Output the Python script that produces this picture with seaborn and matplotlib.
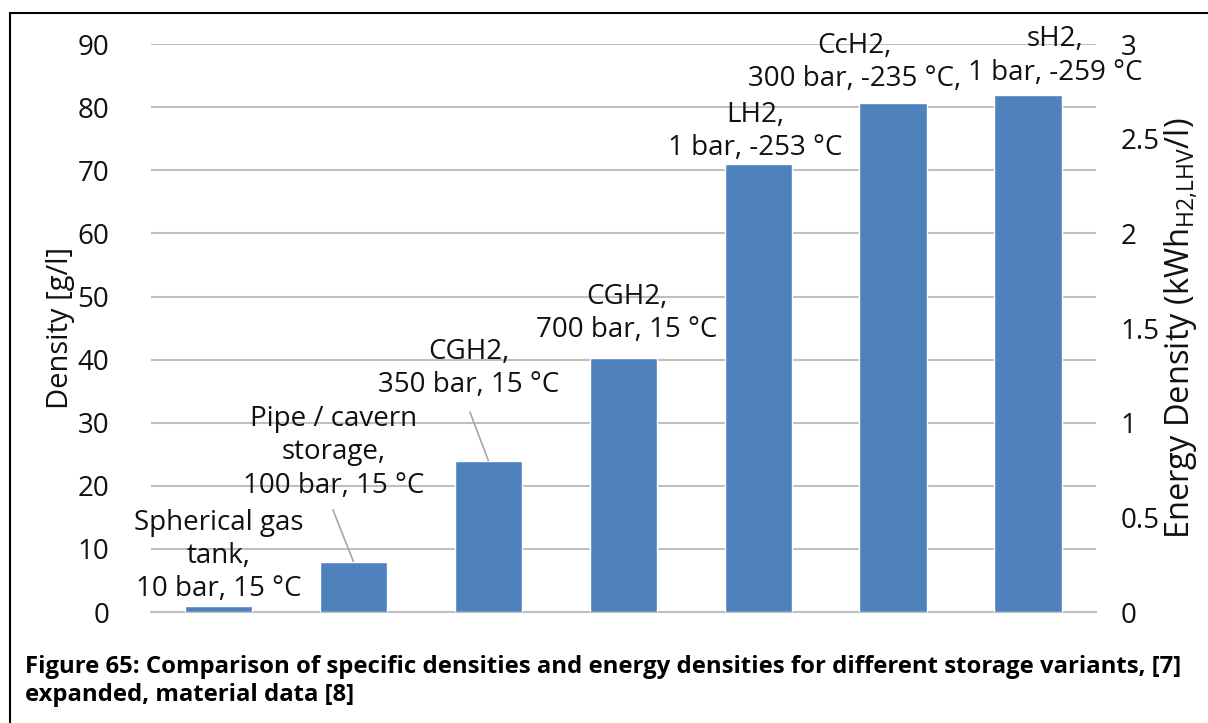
import matplotlib
matplotlib.use("Agg")
import matplotlib.pyplot as plt
from matplotlib.lines import Line2D
import seaborn as sns
import pandas as pd

# Storage variants and their hydrogen density in g/l
variants = [
    "Spherical gas\ntank,\n10 bar, 15 °C",
    "Pipe / cavern\nstorage,\n100 bar, 15 °C",
    "CGH2,\n350 bar, 15 °C",
    "CGH2,\n700 bar, 15 °C",
    "LH2,\n1 bar, -253 °C",
    "CcH2,\n300 bar, -235 °C,",
    "sH2,\n1 bar, -259 °C",
]
density = [0.9, 8.0, 24.0, 40.2, 71.0, 80.6, 82.0]

left_ticks = [0, 10, 20, 30, 40, 50, 60, 70, 80, 90]
right_ticks = [0, 0.5, 1, 1.5, 2, 2.5, 3]
right_tick_labels = ["0", "0.5", "1", "1.5", "2", "2.5", "3"]

# label placement (category offset, density) and optional leader start points
label_pos = [(0.0, 8.9), (0.856, 25.3), (1.856, 38.6), (3.026, 47.3),
             (3.98, 76.1), (4.71, 87.1), (6.2, 88.1)]
leader_start = {1: (0.848, 16.2), 2: (1.863, 31.7)}

sns.set_theme(style="white")
plt.rcParams["font.family"] = ["Open Sans", "DejaVu Sans"]
plt.rcParams["mathtext.default"] = "regular"

BAR = "#4F81BD"
GRID = "#BFBFBF"
FS = 20

fig = plt.figure(figsize=(12.08, 7.23), dpi=100)
ax = fig.add_axes([0.125, 0.1535, 0.782, 0.7855])

df = pd.DataFrame({"variant": variants, "density": density})
sns.barplot(data=df, x="variant", y="density", color=BAR, saturation=1,
            width=0.5, ax=ax, zorder=3)

ax.set_ylim(0, 90)
ax.set_xlim(-0.5, len(variants) - 0.5)
ax.set_yticks(left_ticks)
ax.set_yticklabels([str(t) for t in left_ticks], fontsize=FS, color="#111111")
ax.set_xticks([])
ax.set_xlabel("")
ax.set_ylabel("Density [g/l]", fontsize=21, color="#111111", labelpad=2)
ax.grid(axis="y", color=GRID, linewidth=1.5, zorder=0)
ax.set_axisbelow(True)
for side in ["top", "right", "left"]:
    ax.spines[side].set_visible(False)
ax.spines["bottom"].set_color(GRID)
ax.spines["bottom"].set_linewidth(1.5)
ax.tick_params(axis="y", length=0, pad=30)

ax2 = ax.twinx()
ax2.set_ylim(0, 3)
ax2.set_yticks(right_ticks)
ax2.set_yticklabels(right_tick_labels, fontsize=FS, color="#111111")
ax2.tick_params(axis="y", length=0, pad=18)
for side in ax2.spines:
    ax2.spines[side].set_visible(False)
ax2.set_ylabel(r"Energy Density (kWh$_{H2{,}LHV}$/l)", fontsize=23.5,
               color="#111111", labelpad=2)

# category labels above the bars, some with leader lines
for i, (text, (lx, ly)) in enumerate(zip(variants, label_pos)):
    ax.text(lx, ly, text, ha="center", va="center", fontsize=FS,
            color="#111111", linespacing=1.25, zorder=5)
    if i in leader_start:
        sx, sy = leader_start[i]
        ax.plot([sx, i], [sy, density[i]], color="#A6A6A6", linewidth=1.2,
                zorder=4)

# figure frame
fig.add_artist(Line2D([10 / 1208, 10 / 1208], [0, 1 - 13 / 723],
                      transform=fig.transFigure, color="black", linewidth=1.5))
fig.add_artist(Line2D([10 / 1208, 1], [1 - 13 / 723, 1 - 13 / 723],
                      transform=fig.transFigure, color="black", linewidth=1.5))

fig.text(25 / 1208, 1 - 681 / 723,
         "Figure 65: Comparison of specific densities and energy densities for different storage variants, [7]\n"
         "expanded, material data [8]",
         fontsize=17.2, fontweight="bold", ha="left", va="center",
         linespacing=1.25, color="black")

fig.savefig("out.png", dpi=100, facecolor="white")
